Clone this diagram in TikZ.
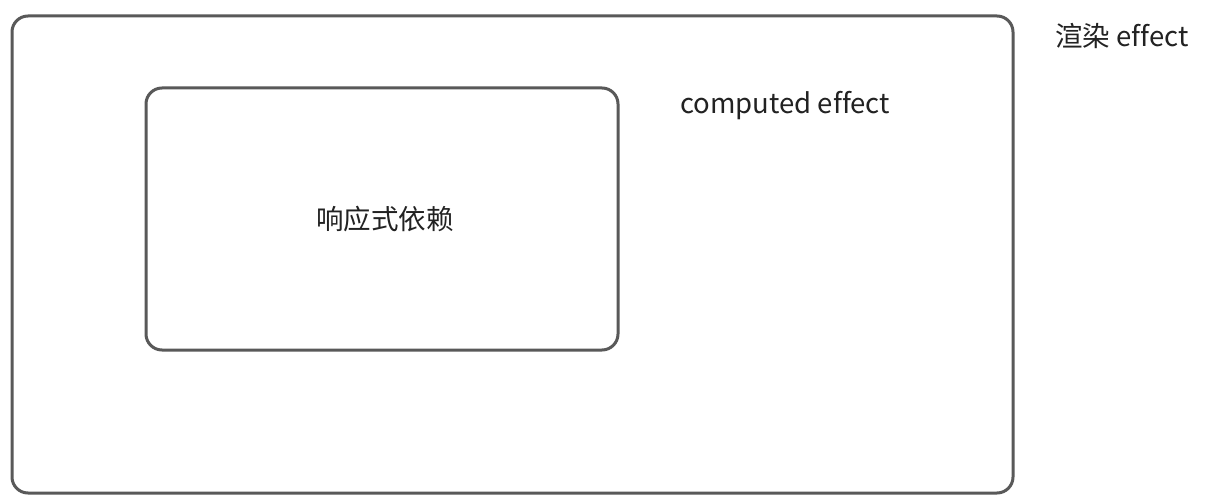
\documentclass[tikz,border=0pt]{standalone}
\usepackage{fontspec}
\setmainfont[Ligatures=NoCommon]{Noto Sans CJK SC}
\definecolor{boxline}{HTML}{595959}
\definecolor{txt}{HTML}{222222}
\begin{document}
\begin{tikzpicture}[x=1pt,y=-1pt,
  frame/.style={draw=boxline,line width=3pt,rounded corners=16pt},
  lbl/.style={text=txt,font=\fontsize{27.5}{32}\selectfont,inner sep=0pt}]
\useasboundingbox (0,0) rectangle (1210,500);
\fill[white] (0,0) rectangle (1210,500);
\draw[frame] (12,16) rectangle (1013,493);
\draw[frame] (146,88) rectangle (618,350);
\node[lbl,anchor=west] (center) at (316,219) {响应式依赖};
\node[lbl,anchor=west] (comp) at (680,106) {computed effect};
\node[lbl,anchor=west] (render) at (1055,36) {渲染 effect};
\end{tikzpicture}
\end{document}
